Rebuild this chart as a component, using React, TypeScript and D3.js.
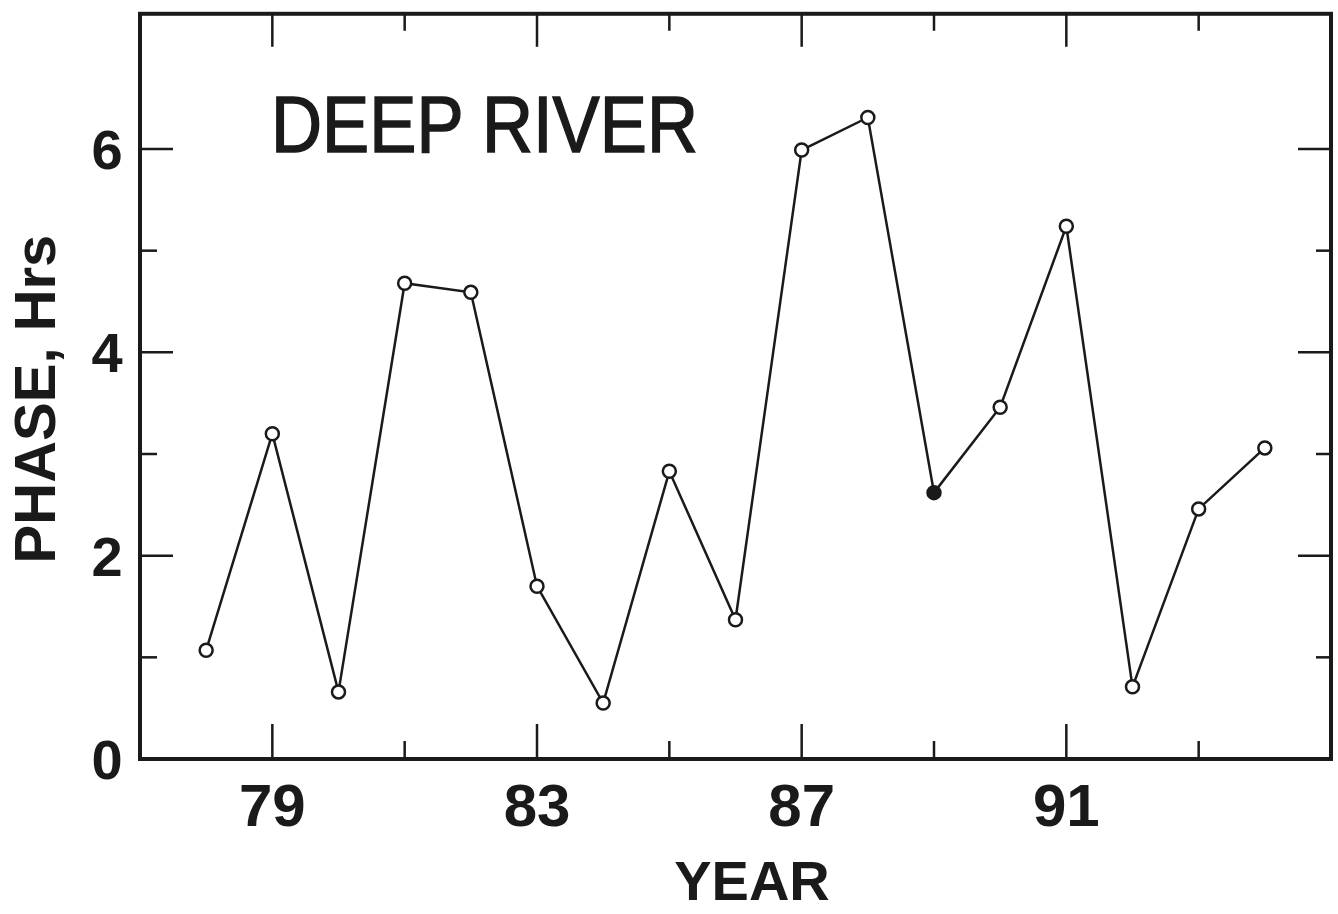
import React from "react";
import * as d3 from "d3";

const years = [78, 79, 80, 81, 82, 83, 84, 85, 86, 87, 88, 89, 90, 91, 92, 93, 94];
const phase = [1.07, 3.2, 0.66, 4.68, 4.59, 1.7, 0.55, 2.83, 1.37, 5.99, 6.31, 2.62, 3.46, 5.24, 0.71, 2.46, 3.06];
const filledYears = [89];
const xMajorTicks = [79, 83, 87, 91];
const xMinorTicks = [81, 85, 89, 93];
const yMajorTicks = [0, 2, 4, 6];
const yMinorTicks = [1, 3, 5];
const title = "DEEP RIVER";
const xTitle = "YEAR";
const yTitle = "PHASE, Hrs";

const W = 1338;
const H = 914;

export default function App() {
  const x = d3.scaleLinear().domain([77, 95]).range([140, 1331]);
  const y = d3.scaleLinear().domain([0, 6]).range([759, 149]);
  const top = y(7.33);
  const left = x(77);
  const right = x(95);
  const bottom = y(0);
  const pts = years.map((yr, i) => [yr, phase[i]] as [number, number]);
  const line = d3
    .line<[number, number]>()
    .x((d) => x(d[0]))
    .y((d) => y(d[1]));
  const font = "'Liberation Sans', Arial, sans-serif";
  return (
    <svg
      width={W}
      height={H}
      style={{ position: "absolute", left: 0, top: 0, background: "#fff" }}
    >
      <rect
        x={left}
        y={top}
        width={right - left}
        height={bottom - top}
        fill="none"
        stroke="#1a1a1a"
        strokeWidth={4}
      />
      {xMajorTicks.map((t) => (
        <g key={"xM" + t}>
          <line x1={x(t)} x2={x(t)} y1={bottom} y2={bottom - 35} stroke="#1a1a1a" strokeWidth={2.5} />
          <line x1={x(t)} x2={x(t)} y1={top} y2={top + 33} stroke="#1a1a1a" strokeWidth={2.5} />
          <text
            x={x(t)}
            y={826}
            textAnchor="middle"
            fontFamily={font}
            fontWeight="bold"
            fontSize={60}
            fill="#1a1a1a"
          >
            {t}
          </text>
        </g>
      ))}
      {xMinorTicks.map((t) => (
        <g key={"xm" + t}>
          <line x1={x(t)} x2={x(t)} y1={bottom} y2={bottom - 18} stroke="#1a1a1a" strokeWidth={2.5} />
          <line x1={x(t)} x2={x(t)} y1={top} y2={top + 17} stroke="#1a1a1a" strokeWidth={2.5} />
        </g>
      ))}
      {yMajorTicks.map((t) => (
        <g key={"yM" + t}>
          {t > 0 && (
            <>
              <line x1={left} x2={left + 33} y1={y(t)} y2={y(t)} stroke="#1a1a1a" strokeWidth={2.5} />
              <line x1={right} x2={right - 33} y1={y(t)} y2={y(t)} stroke="#1a1a1a" strokeWidth={2.5} />
            </>
          )}
          <text
            x={107}
            y={y(t) + 20}
            textAnchor="middle"
            fontFamily={font}
            fontWeight="bold"
            fontSize={56}
            fill="#1a1a1a"
          >
            {t}
          </text>
        </g>
      ))}
      {yMinorTicks.map((t) => (
        <g key={"ym" + t}>
          <line x1={left} x2={left + 17} y1={y(t)} y2={y(t)} stroke="#1a1a1a" strokeWidth={2.5} />
          <line x1={right} x2={right - 15} y1={y(t)} y2={y(t)} stroke="#1a1a1a" strokeWidth={2.5} />
        </g>
      ))}
      <path d={line(pts) || ""} fill="none" stroke="#1a1a1a" strokeWidth={2.5} />
      {pts.map((p) => (
        <circle
          key={"c" + p[0]}
          cx={x(p[0])}
          cy={y(p[1])}
          r={6.5}
          fill={filledYears.includes(p[0]) ? "#1a1a1a" : "#fff"}
          stroke="#1a1a1a"
          strokeWidth={2.5}
        />
      ))}
      <text
        x={271}
        y={152}
        fontFamily={font}
        fontSize={80}
        textLength={427}
        lengthAdjust="spacingAndGlyphs"
        fill="#1a1a1a"
        stroke="#1a1a1a"
        strokeWidth={1.5}
      >
        {title}
      </text>
      <text
        x={752}
        y={900}
        textAnchor="middle"
        fontFamily={font}
        fontWeight="bold"
        fontSize={56}
        fill="#1a1a1a"
      >
        {xTitle}
      </text>
      <text
        transform="translate(55,399) rotate(-90)"
        textAnchor="middle"
        fontFamily={font}
        fontWeight="bold"
        fontSize={58}
        fill="#1a1a1a"
      >
        {yTitle}
      </text>
    </svg>
  );
}
